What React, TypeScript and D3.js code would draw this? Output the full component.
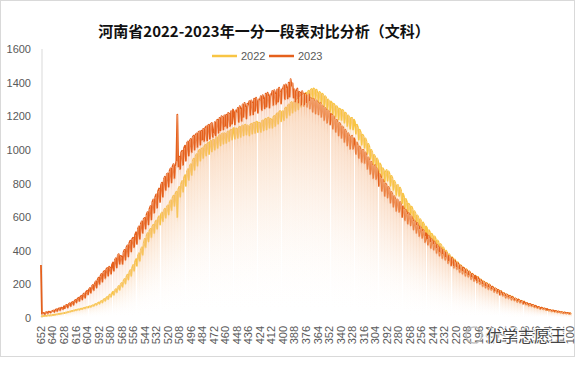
import React from 'react';
import * as d3 from 'd3';

// 河南省 文科 一分一段 — number of students at each score, 652 down to 100
const TITLE = '河南省2022-2023年一分一段表对比分析（文科）';
const SERIES = ['2022', '2023'];
const Y_TICKS = [0, 200, 400, 600, 800, 1000, 1200, 1400, 1600];
const SCORE_HIGH = 652;
const SCORE_LOW = 100;
const LABEL_STEP = 12;

// one row per 12 scores, starting at the row's label score
const counts2022 = [
  12, 10, 12, 11, 13, 14, 12, 15, 16, 14, 17, 15, // 652
  18, 17, 20, 19, 22, 21, 24, 23, 26, 25, 28, 27, // 640
  30, 29, 33, 32, 36, 35, 39, 38, 42, 41, 45, 44, // 628
  48, 46, 50, 52, 49, 54, 56, 53, 58, 61, 57, 63, // 616
  65, 62, 68, 70, 66, 73, 76, 72, 80, 84, 78, 88, // 604
  92, 85, 97, 102, 92, 108, 114, 102, 120, 126, 112, 134, // 592
  140, 126, 148, 156, 138, 165, 172, 152, 182, 190, 168, 200, // 580
  208, 185, 222, 232, 205, 245, 258, 228, 272, 285, 250, 300, // 568
  315, 280, 335, 350, 310, 370, 385, 340, 405, 420, 375, 445, // 556
  470, 420, 490, 505, 455, 520, 530, 480, 545, 555, 505, 570, // 544
  580, 530, 595, 605, 555, 618, 628, 575, 640, 650, 595, 660, // 532
  670, 615, 685, 700, 640, 715, 728, 665, 740, 752, 600, 765, // 520
  780, 720, 800, 815, 750, 835, 850, 785, 870, 885, 820, 905, // 508
  915, 850, 935, 948, 880, 962, 975, 905, 990, 1000, 935, 1005, // 496
  1010, 950, 1020, 1030, 965, 1035, 1042, 975, 1048, 1055, 990, 1060, // 484
  1060, 1000, 1070, 1075, 1010, 1080, 1088, 1025, 1092, 1098, 1035, 1100, // 472
  1095, 1040, 1105, 1110, 1050, 1115, 1120, 1060, 1125, 1130, 1065, 1128, // 460
  1125, 1070, 1132, 1138, 1075, 1140, 1145, 1085, 1148, 1150, 1090, 1145, // 448
  1140, 1085, 1150, 1155, 1095, 1158, 1162, 1100, 1165, 1168, 1105, 1162, // 436
  1160, 1105, 1170, 1175, 1115, 1180, 1185, 1120, 1188, 1192, 1130, 1185, // 424
  1180, 1130, 1195, 1202, 1140, 1210, 1218, 1155, 1225, 1232, 1170, 1228, // 412
  1230, 1175, 1245, 1252, 1190, 1262, 1270, 1205, 1278, 1285, 1220, 1282, // 400
  1285, 1230, 1298, 1305, 1240, 1312, 1318, 1255, 1325, 1330, 1265, 1335, // 388
  1340, 1280, 1348, 1352, 1290, 1358, 1362, 1300, 1365, 1360, 1300, 1358, // 376
  1340, 1280, 1345, 1338, 1270, 1335, 1325, 1255, 1320, 1310, 1240, 1300, // 364
  1290, 1225, 1288, 1280, 1210, 1275, 1265, 1195, 1260, 1250, 1180, 1245, // 352
  1240, 1175, 1238, 1230, 1160, 1222, 1212, 1140, 1205, 1195, 1125, 1190, // 340
  1190, 1120, 1180, 1165, 1095, 1150, 1135, 1060, 1120, 1105, 1030, 1090, // 328
  1080, 1010, 1068, 1050, 975, 1035, 1018, 945, 1000, 985, 910, 970, // 316
  960, 895, 950, 935, 860, 920, 908, 835, 892, 880, 810, 870, // 304
  880, 815, 872, 858, 785, 845, 832, 760, 815, 802, 730, 790, // 292
  790, 725, 775, 758, 680, 740, 722, 650, 708, 692, 620, 680, // 280
  670, 610, 662, 648, 575, 635, 622, 555, 610, 598, 530, 588, // 268
  575, 520, 568, 555, 490, 545, 535, 470, 522, 512, 450, 502, // 256
  490, 440, 485, 472, 415, 462, 452, 395, 440, 432, 378, 420, // 244
  405, 365, 400, 388, 340, 380, 372, 325, 362, 355, 310, 348, // 232
  335, 305, 332, 322, 290, 315, 308, 278, 300, 294, 265, 290, // 220
  280, 255, 278, 270, 242, 264, 258, 232, 252, 247, 222, 244, // 208
  232, 212, 230, 222, 200, 218, 212, 192, 208, 203, 183, 200, // 196
  188, 172, 186, 180, 162, 176, 172, 156, 168, 164, 148, 160, // 184
  150, 138, 148, 143, 128, 140, 137, 124, 133, 130, 116, 127, // 172
  118, 108, 116, 112, 100, 110, 107, 96, 103, 100, 89, 98, // 160
  88, 82, 87, 84, 75, 82, 80, 71, 77, 75, 66, 72, // 148
  66, 61, 65, 62, 55, 61, 59, 52, 56, 55, 48, 53, // 136
  48, 45, 47, 45, 40, 44, 43, 38, 41, 40, 35, 38, // 124
  36, 33, 35, 33, 29, 32, 31, 28, 30, 29, 26, 28, // 112
  25, // 100
];

const counts2023 = [
  315, 25, 28, 30, 22, 33, 35, 27, 38, 36, 32, 39, // 652
  42, 45, 36, 48, 52, 40, 55, 58, 45, 62, 60, 52, // 640
  70, 58, 75, 78, 62, 84, 88, 70, 92, 95, 78, 102, // 628
  108, 92, 114, 120, 100, 126, 132, 110, 140, 146, 120, 155, // 616
  162, 140, 170, 178, 150, 188, 196, 165, 205, 218, 180, 228, // 604
  240, 200, 250, 262, 215, 272, 280, 235, 290, 298, 250, 305, // 592
  300, 262, 318, 330, 280, 345, 355, 300, 372, 380, 320, 370, // 580
  365, 320, 390, 405, 345, 420, 432, 365, 445, 460, 395, 470, // 568
  478, 420, 495, 510, 440, 530, 545, 470, 560, 575, 505, 590, // 556
  595, 530, 615, 630, 555, 648, 665, 585, 690, 705, 625, 720, // 544
  735, 655, 755, 770, 690, 790, 805, 720, 825, 840, 760, 855, // 532
  860, 780, 875, 890, 805, 900, 915, 830, 905, 935, 1210, 900, // 520
  960, 885, 985, 995, 910, 1010, 1025, 935, 1040, 1050, 965, 1055, // 508
  1065, 985, 1075, 1085, 1000, 1090, 1098, 1015, 1105, 1110, 1030, 1115, // 496
  1060, 1125, 1050, 1130, 1140, 1055, 1145, 1150, 1065, 1155, 1160, 1075, // 484
  1100, 1165, 1085, 1175, 1180, 1100, 1190, 1115, 1200, 1195, 1120, 1205, // 472
  1140, 1210, 1130, 1220, 1215, 1140, 1230, 1155, 1240, 1225, 1150, 1235, // 460
  1225, 1250, 1165, 1260, 1245, 1170, 1270, 1195, 1280, 1255, 1185, 1275, // 448
  1265, 1290, 1205, 1295, 1280, 1210, 1305, 1230, 1310, 1290, 1220, 1300, // 436
  1295, 1320, 1235, 1325, 1305, 1245, 1335, 1255, 1340, 1320, 1250, 1330, // 424
  1325, 1350, 1265, 1355, 1335, 1270, 1360, 1285, 1370, 1345, 1275, 1360, // 412
  1365, 1385, 1300, 1390, 1370, 1305, 1400, 1315, 1420, 1380, 1395, 1310, // 400
  1360, 1285, 1350, 1365, 1280, 1345, 1340, 1265, 1350, 1330, 1260, 1335, // 388
  1325, 1255, 1320, 1330, 1245, 1310, 1300, 1225, 1305, 1290, 1215, 1295, // 376
  1285, 1210, 1275, 1280, 1195, 1265, 1255, 1175, 1250, 1240, 1160, 1235, // 364
  1225, 1150, 1215, 1210, 1125, 1200, 1185, 1105, 1180, 1165, 1085, 1160, // 352
  1150, 1070, 1140, 1130, 1045, 1120, 1105, 1025, 1100, 1085, 1005, 1080, // 340
  1085, 1005, 1070, 1060, 975, 1045, 1030, 950, 1020, 1005, 925, 1000, // 328
  1000, 920, 985, 970, 885, 955, 940, 855, 930, 910, 830, 905, // 316
  910, 825, 890, 870, 785, 855, 840, 755, 825, 810, 725, 800, // 304
  790, 715, 780, 765, 685, 750, 735, 660, 725, 710, 635, 705, // 292
  700, 630, 690, 675, 600, 665, 650, 580, 645, 630, 560, 625, // 280
  615, 550, 605, 590, 525, 580, 570, 505, 565, 550, 485, 545, // 268
  535, 475, 525, 515, 450, 505, 495, 435, 490, 475, 415, 470, // 256
  460, 405, 455, 440, 385, 435, 425, 370, 420, 410, 355, 405, // 244
  395, 345, 390, 378, 325, 370, 362, 312, 358, 348, 298, 342, // 232
  330, 290, 328, 318, 272, 312, 305, 262, 300, 292, 250, 288, // 220
  280, 245, 276, 268, 230, 262, 256, 220, 252, 246, 210, 242, // 208
  232, 202, 228, 220, 188, 216, 210, 180, 206, 200, 170, 198, // 196
  190, 166, 186, 180, 154, 176, 172, 148, 168, 162, 138, 160, // 184
  150, 132, 148, 142, 120, 140, 136, 116, 132, 128, 108, 126, // 172
  118, 104, 116, 112, 95, 110, 106, 91, 102, 99, 84, 97, // 160
  90, 80, 89, 85, 73, 84, 81, 70, 78, 75, 64, 73, // 148
  67, 60, 66, 63, 54, 62, 60, 52, 57, 55, 47, 54, // 136
  49, 44, 48, 46, 40, 45, 44, 38, 42, 40, 34, 39, // 124
  36, 32, 35, 33, 28, 33, 32, 27, 30, 29, 25, 28, // 112
  24, // 100
];

const LINE_COLORS = ['#f8c544', '#e5601c'];
const BAR_COLORS = ['#f9cd95', '#f4b089'];

const W = 576;
const H = 365;
const FONT = '"Liberation Sans", "Noto Sans CJK SC", sans-serif';
const LABEL_COLOR = '#595959';

const App = () => {
  const scores = d3.range(SCORE_HIGH, SCORE_LOW - 1, -1);
  const labelScores = scores.filter((s) => (SCORE_HIGH - s) % LABEL_STEP === 0);
  const seriesData = [counts2022, counts2023];

  const x = d3
    .scaleBand<number>()
    .domain(scores)
    .range([40.5, 571.5])
    .paddingInner(0.04)
    .paddingOuter(0);
  const bw = x.bandwidth();
  const cx = (s: number) => (x(s) as number) + bw / 2;

  const y = d3.scaleLinear().domain([0, 1600]).range([318, 49]);

  const line = d3
    .line<number>()
    .x((_, i) => cx(scores[i]))
    .y((d) => y(d));

  return (
    <svg
      width={W}
      height={H}
      style={{ position: 'fixed', left: 0, top: 0, background: '#fff' }}
    >
      <defs>
        {BAR_COLORS.map((c, i) => (
          <linearGradient key={i} id={`fill${i}`} x1="0" y1="0" x2="0" y2="1">
            <stop offset="0" stopColor={c} stopOpacity={0.6} />
            <stop offset="0.06" stopColor={c} stopOpacity={0.3} />
            <stop offset="1" stopColor="#ffffff" stopOpacity={0} />
          </linearGradient>
        ))}
      </defs>

      <rect x={0.5} y={0.5} width={574} height={356} fill="#fff" stroke="#d9d9d9" />

      <text
        x={264}
        y={30}
        textAnchor="middle"
        dominantBaseline="central"
        fontFamily='"Noto Sans CJK SC", sans-serif'
        fontWeight="bold"
        fontSize={15}
        fill="#111"
      >
        {TITLE}
      </text>

      {/* legend */}
      {SERIES.map((name, i) => (
        <g key={name} transform={`translate(${212 + i * 57}, 56)`}>
          <line x1={0} x2={25} y1={0} y2={0} stroke={LINE_COLORS[i]} strokeWidth={2.5} />
          <text
            x={29}
            y={0}
            dominantBaseline="central"
            fontFamily={FONT}
            fontSize={11}
            fill={LABEL_COLOR}
          >
            {name}
          </text>
        </g>
      ))}

      {/* y axis */}
      <line x1={42} x2={42} y1={y(1600)} y2={y(0)} stroke="#d9d9d9" />
      {Y_TICKS.map((t) => (
        <text
          key={t}
          x={31}
          y={y(t)}
          textAnchor="end"
          dominantBaseline="central"
          fontFamily={FONT}
          fontSize={11}
          fill={LABEL_COLOR}
        >
          {t}
        </text>
      ))}

      {/* lines under the translucent columns */}
      {seriesData.map((vals, i) => (
        <path
          key={`l${i}`}
          d={line(vals) || ''}
          fill="none"
          stroke={LINE_COLORS[i]}
          strokeWidth={1.8}
          strokeLinejoin="round"
        />
      ))}

      {seriesData.map((vals, i) => (
        <g key={`b${i}`} fill={`url(#fill${i})`} shapeRendering="crispEdges">
          {vals.map((v, j) => (
            <rect
              key={j}
              x={x(scores[j])}
              width={bw}
              y={y(v)}
              height={y(0) - y(v)}
            />
          ))}
        </g>
      ))}

      {/* x labels */}
      {labelScores.map((s) => (
        <text
          key={s}
          transform={`translate(${Math.min(cx(s), 569.5)}, 326) rotate(-90)`}
          textAnchor="end"
          dominantBaseline="central"
          fontFamily={FONT}
          fontSize={11}
          fill={LABEL_COLOR}
        >
          {s}
        </text>
      ))}

      {/* watermark */}
      <g opacity={0.9}>
        <circle cx={474} cy={335} r={8} fill="none" stroke="#bbb" strokeWidth={1.5} />
        <text
          x={486}
          y={335}
          dominantBaseline="central"
          fontFamily='"Noto Sans CJK SC", sans-serif'
          fontSize={16}
          fill="#333"
          stroke="#fff"
          strokeWidth={2}
          paintOrder="stroke"
        >
          优学志愿王
        </text>
      </g>
    </svg>
  );
};

export default App;
